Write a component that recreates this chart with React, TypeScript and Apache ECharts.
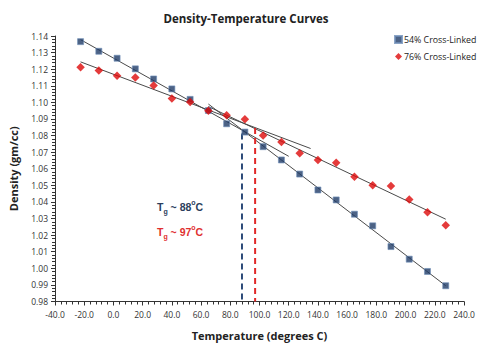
import React, { useEffect, useRef } from "react";
import * as echarts from "echarts";

const temps54 = [-22.5, -10, 2.5, 15, 27.5, 40, 52.5, 65, 77.5, 90, 102.5, 115, 127.5, 140, 152.5, 165, 177.5, 190, 202.5, 215, 227.5];
const density54 = [1.1366, 1.1308, 1.1266, 1.1202, 1.1141, 1.1081, 1.1018, 1.0951, 1.0871, 1.0821, 1.0733, 1.0653, 1.0568, 1.0472, 1.0412, 1.0326, 1.0256, 1.0131, 1.0055, 0.9981, 0.9895];
const temps76 = [-22.5, -10, 2.5, 15, 27.5, 40, 52.5, 65, 77.5, 90, 102.5, 115, 127.5, 140, 152.5, 165, 177.5, 190, 202.5, 215, 227.5];
const density76 = [1.1212, 1.1192, 1.116, 1.115, 1.1102, 1.1024, 1.1003, 1.0949, 1.0923, 1.0899, 1.0801, 1.0761, 1.0693, 1.0653, 1.0636, 1.0552, 1.05, 1.0496, 1.0414, 1.0338, 1.026];

// trend line end points [T, density]
const glassy54 = [[-22.5, 1.1378], [120, 1.0675]];
const rubbery54 = [[65, 1.099], [227.5, 0.9895]];
const glassy76 = [[-22.5, 1.1244], [135, 1.0722]];
const rubbery76 = [[65, 1.0975], [227.5, 1.0296]];

const tg54 = 88;
const tg76 = 97;
const tgTop54 = 1.0813;
const tgTop76 = 1.0845;

const BLUE = "#1F3B66";
const RED = "#DD0a0a";

export default function App() {
  const ref = useRef<HTMLDivElement>(null);
  useEffect(() => {
    const chart = echarts.init(ref.current!, null, { renderer: "svg" });
    const trend = (d: number[][]) => ({
      type: "line",
      data: d,
      symbol: "none",
      silent: true,
      lineStyle: { color: "#4a4a4a", width: 1 },
      z: 1,
    });
    const rich = (fill: string) => ({
      a: { fontSize: 10.5, fontWeight: "bold", fill, lineHeight: 16, fontFamily: "Liberation Sans" },
      sub: { fontSize: 7, fontWeight: "bold", fill, lineHeight: 9, verticalAlign: "bottom", fontFamily: "Liberation Sans" },
      sup: { fontSize: 7, fontWeight: "bold", fill, lineHeight: 9, verticalAlign: "top", fontFamily: "Liberation Sans" },
    });
    chart.setOption({
      animation: false,
      backgroundColor: "#fff",
      textStyle: { fontFamily: "Open Sans" },
      title: {
        text: "Density-Temperature Curves",
        left: 241,
        top: 7,
        textAlign: "center",
        textStyle: { fontSize: 11.5, fontWeight: "bold", color: "#222", fontFamily: "Open Sans" },
      },
      legend: {
        data: [
          { name: "54% Cross-Linked", icon: "rect" },
          { name: "76% Cross-Linked", icon: "diamond" },
        ],
        orient: "vertical",
        left: 389,
        top: 30,
        itemGap: 8,
        itemWidth: 7,
        itemHeight: 7,
        textStyle: { fontSize: 8.8, color: "#222", padding: [0, 0, 0, -3] },
      },
      grid: { left: 54, right: 25, top: 36, bottom: 47.5 },
      xAxis: {
        type: "value",
        min: -40,
        max: 240,
        interval: 20,
        name: "Temperature (degrees C)",
        nameLocation: "middle",
        nameGap: 28,
        nameTextStyle: { fontSize: 11, fontWeight: "bold", color: "#222" },
        axisLine: { onZero: false, lineStyle: { color: "#333", width: 1 } },
        axisTick: { show: true, length: 4, lineStyle: { color: "#333" } },
        minorTick: { show: true, splitNumber: 5, length: 3, lineStyle: { color: "#333" } },
        splitLine: { show: false },
        axisLabel: { fontSize: 8.5, color: "#333", margin: 8, formatter: (v: number) => v.toFixed(1) },
      },
      yAxis: {
        type: "value",
        min: 0.98,
        max: 1.14,
        interval: 0.01,
        name: "Density (gm/cc)",
        nameLocation: "middle",
        nameGap: 36,
        nameTextStyle: { fontSize: 11, fontWeight: "bold", color: "#222" },
        axisLine: { show: true, onZero: false, lineStyle: { color: "#333", width: 1 } },
        axisTick: { show: true, length: 4, lineStyle: { color: "#333" } },
        minorTick: { show: true, splitNumber: 5, length: 3, lineStyle: { color: "#333" } },
        splitLine: { show: false },
        axisLabel: { fontSize: 8.5, color: "#333", margin: 7, formatter: (v: number) => v.toFixed(2) },
      },
      series: [
        trend(glassy54),
        trend(rubbery54),
        trend(glassy76),
        trend(rubbery76),
        {
          type: "line",
          data: [[tg54, tgTop54], [tg54, 0.98]],
          symbol: "none",
          silent: true,
          lineStyle: { color: "#2B4A78", width: 2, type: [6, 4] },
          z: 1,
        },
        {
          type: "line",
          data: [[tg76, tgTop76], [tg76, 0.98]],
          symbol: "none",
          silent: true,
          lineStyle: { color: "#E02828", width: 2, type: [6, 4] },
          z: 1,
        },
        {
          name: "54% Cross-Linked",
          type: "scatter",
          symbol: "rect",
          symbolSize: 6,
          data: temps54.map((t, i) => [t, density54[i]]),
          itemStyle: { color: BLUE, borderColor: "#6f8fb8", borderWidth: 0.8 },
          z: 3,
        },
        {
          name: "76% Cross-Linked",
          type: "scatter",
          symbol: "diamond",
          symbolSize: 8.5,
          data: temps76.map((t, i) => [t, density76[i]]),
          itemStyle: { color: RED },
          z: 3,
        },
      ],
      graphic: [
        {
          type: "text",
          left: 157,
          top: 199,
          style: { text: "{a|T}{sub|g}{a| ~ 88}{sup|o}{a|C}", rich: rich("#2B3E5C") },
        },
        {
          type: "text",
          left: 157,
          top: 224,
          style: { text: "{a|T}{sub|g}{a| ~ 97}{sup|o}{a|C}", rich: rich("#E03030") },
        },
      ],
    });
    return () => chart.dispose();
  }, []);
  return <div ref={ref} style={{ width: 489, height: 349, position: "absolute", left: 0, top: 0 }} />;
}
